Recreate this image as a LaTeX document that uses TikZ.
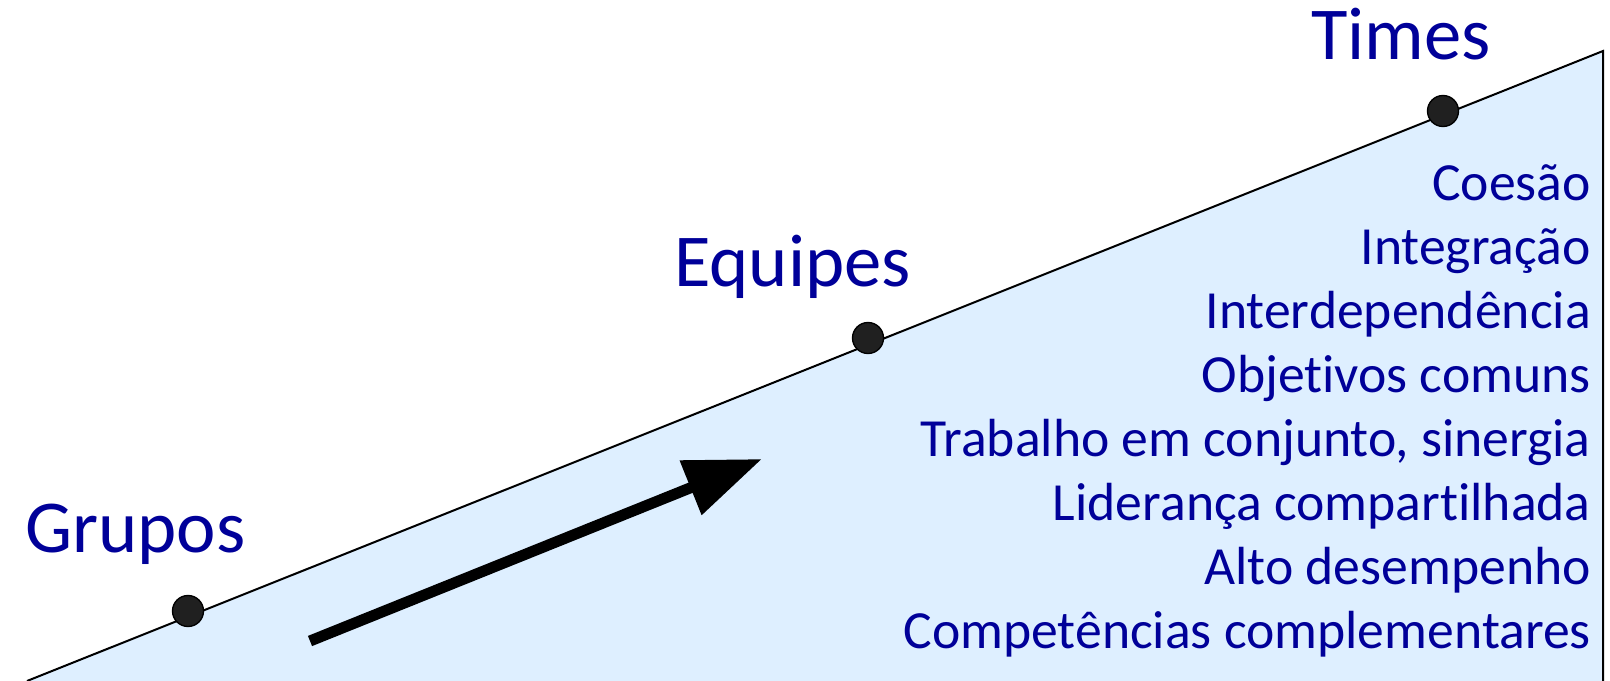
\documentclass[tikz,border=0pt]{standalone}
\usepackage{fontspec}
\setmainfont[Ligatures={NoCommon}]{Carlito}
\usetikzlibrary{arrows.meta}
\definecolor{txtblue}{RGB}{0,0,153}
\definecolor{fillblue}{RGB}{222,239,255}
\definecolor{dotgray}{RGB}{32,32,32}
\begin{document}
\begin{tikzpicture}[x=0.75pt,y=-0.75pt,
  heading/.style={font=\fontsize{56}{56}\selectfont, text=txtblue, inner sep=0pt, anchor=base west},
  item/.style={font=\fontsize{40.25}{40}\selectfont, text=txtblue, inner sep=0pt, anchor=base east},
  dot/.style={circle, fill=dotgray, draw=black, line width=1pt, minimum size=23.25pt, inner sep=0pt},
  edge/.style={line width=1.5pt, line join=miter}]
\useasboundingbox (0,0) rectangle (1610,681);
\coordinate (bl) at (27,681);
\coordinate (tr) at (1603,51);
\coordinate (br) at (1603,681);
\fill[fillblue] (bl) -- (tr) -- (br) -- cycle;
\draw[edge] (bl) -- (tr) -- (br);
% dots
\node[dot] (dg) at (188,611) {};
\node[dot] (de) at (868,338) {};
\node[dot] (dt) at (1443,111) {};
% headings
\node[heading] (grupos) at (25,552) {Grupos};
\node[heading] (equipes) at (674,286) {Equipes};
\node[heading] (times) at (1311,60) {Times};
% arrow
\coordinate (tail) at (310,641);
\coordinate (tip) at (762,459);
\draw[line width=8.25pt, -{Triangle[length=57.75pt,width=42pt]}] (tail) -- (tip);
% list
\node[item] (l1) at (1591,200) {Coesão};
\node[item] (l2) at (1591,264) {Integração};
\node[item] (l3) at (1591,328) {Interdependência};
\node[item] (l4) at (1591,392) {Objetivos comuns};
\node[item] (l5) at (1591,456) {Trabalho em conjunto, sinergia};
\node[item] (l6) at (1591,520) {Liderança compartilhada};
\node[item] (l7) at (1591,584) {Alto desempenho};
\node[item] (l8) at (1591,648) {Competências complementares};
\end{tikzpicture}
\end{document}
